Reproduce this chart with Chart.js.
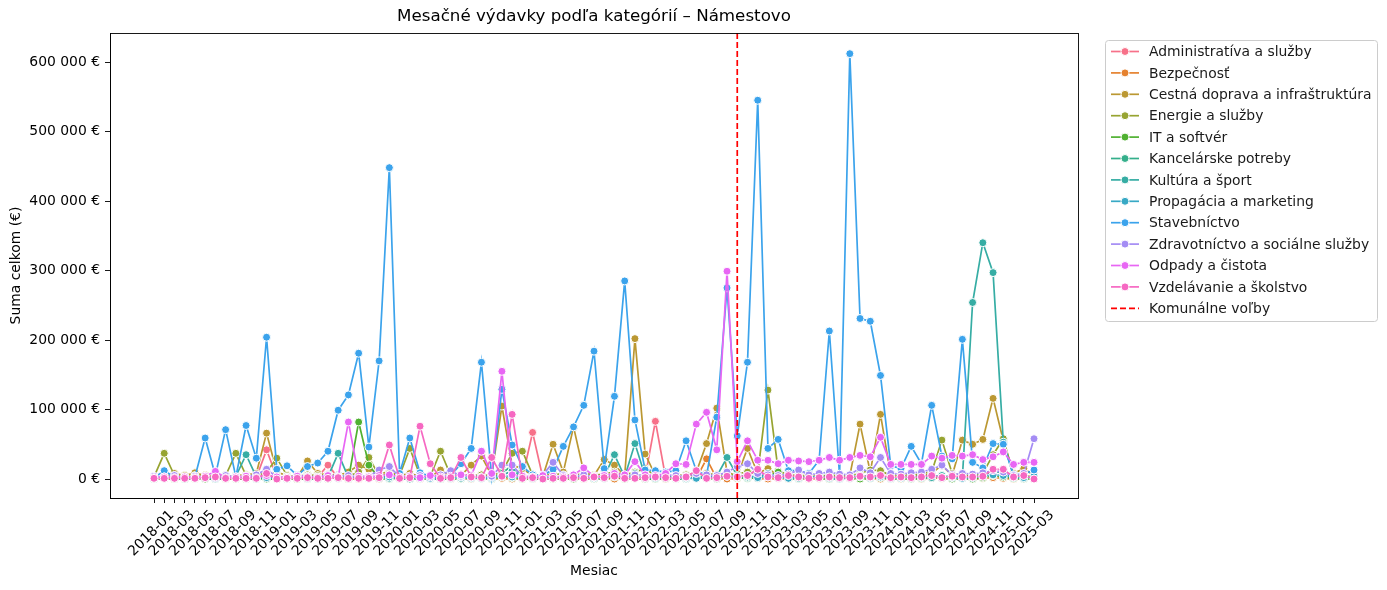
<!DOCTYPE html>
<html><head><meta charset="utf-8">
<script src="https://cdn.jsdelivr.net/npm/chart.js@4.4.1/dist/chart.umd.min.js"></script>
<style>html,body{margin:0;padding:0;background:#fff;}#wrap{width:1387px;height:590px;position:relative;}</style>
</head><body><div id="wrap"><canvas id="c"></canvas></div>
<script>
const months = ['2018-01','2018-02','2018-03','2018-04','2018-05','2018-06','2018-07','2018-08','2018-09','2018-10','2018-11','2018-12',
'2019-01','2019-02','2019-03','2019-04','2019-05','2019-06','2019-07','2019-08','2019-09','2019-10','2019-11','2019-12',
'2020-01','2020-02','2020-03','2020-04','2020-05','2020-06','2020-07','2020-08','2020-09','2020-10','2020-11','2020-12',
'2021-01','2021-02','2021-03','2021-04','2021-05','2021-06','2021-07','2021-08','2021-09','2021-10','2021-11','2021-12',
'2022-01','2022-02','2022-03','2022-04','2022-05','2022-06','2022-07','2022-08','2022-09','2022-10','2022-11','2022-12',
'2023-01','2023-02','2023-03','2023-04','2023-05','2023-06','2023-07','2023-08','2023-09','2023-10','2023-11','2023-12',
'2024-01','2024-02','2024-03','2024-04','2024-05','2024-06','2024-07','2024-08','2024-09','2024-10','2024-11','2024-12',
'2025-01','2025-02','2025-03'];
const electionMonth = '2022-10';
const electionLabel = 'Komunálne voľby';

// values in thousands of euros
const administrativa_k = [1,2,1,1,2,1,2,1,2,1, 2,42,3,2,1,2,3,20,2,1, 2,3,2,4,2,1,2,1,2,1, 2,3,2,1,4,3,2,67,2,1, 2,3,2,1,2,3,2,4,3,83, 2,1,2,3,2,1,4,2,3,2, 3,2,1,2,3,2,1,2,3,2, 2,3,2,1,2,3,2,3,2,1, 2,3,4,5,2,1,2];
const bezpecnost_k = [0,1,0,1,0,5,1,0,1,0, 1,2,0,1,0,1,0,2,1,0, 0,1,0,2,0,1,0,1,0,0, 1,0,2,0,1,0,1,0,0,1, 0,1,0,0,1,0,2,1,0,1, 0,1,2,1,29,1,0,1,2,1, 0,1,0,1,0,1,0,2,1,0, 1,0,1,0,1,0,2,1,0,1, 0,1,2,1,0,1,0];
const cestna_k = [2,3,8,5,9,5,3,4,5,6, 8,66,10,5,3,26,8,6,5,10, 20,14,8,10,5,8,4,3,13,3, 5,20,33,5,105,20,15,5,4,50, 10,75,10,5,28,20,5,202,36,5, 4,3,5,10,51,102,10,5,44,8, 15,5,5,4,3,4,5,5,5,79, 10,93,5,4,6,5,8,20,5,56, 50,57,116,55,8,15,5];
const energie_k = [3,37,5,3,5,4,3,5,37,5, 4,10,30,5,4,6,5,6,5,4, 10,31,5,8,5,44,5,4,40,5, 6,5,6,5,10,37,40,6,5,8, 6,5,8,5,8,10,6,10,15,5, 4,5,6,5,8,6,5,8,10,8, 128,12,6,5,5,6,4,6,5,8, 13,12,5,6,5,8,10,56,8,6, 5,8,35,58,6,5,4];
const it_k = [0,1,0,0,1,0,0,1,0,0, 1,0,0,1,0,0,1,0,3,0, 82,20,1,0,2,0,1,0,0,1, 0,2,1,0,3,2,0,1,0,0, 1,0,2,0,1,3,0,1,0,0, 1,0,0,2,1,0,4,2,1,2, 5,10,1,0,2,1,0,1,2,0, 1,2,0,1,0,1,3,2,0,1, 0,2,5,3,1,0,1];
const kancelarske_k = [0,2,1,0,1,2,0,1,3,1, 0,3,1,0,2,1,0,2,5,1, 2,1,3,2,1,0,2,1,0,1, 2,1,3,1,8,20,2,1,0,2, 1,3,2,1,4,5,2,8,3,1, 2,1,0,3,2,1,5,3,2,4, 6,3,2,1,2,3,1,0,2,4, 5,3,1,2,1,3,5,4,2,1, 3,5,12,8,2,1,3];
const kultura_k = [1,2,1,2,1,2,3,2,4,35, 3,2,1,2,3,1,2,3,37,2, 4,3,2,1,2,3,1,2,3,2, 1,3,2,1,5,12,3,2,1,2, 3,2,1,2,4,35,3,51,4,3, 2,3,1,2,3,4,31,5,3,2, 8,3,2,1,2,3,4,2,1,3, 2,4,1,2,3,2,2,5,3,2, 254,340,297,53,4,3,2];
const propagacia_k = [2,1,3,2,1,2,1,3,2,1, 4,2,1,3,2,1,2,3,1,2, 3,1,2,3,1,2,3,1,2,1, 3,2,1,2,5,3,2,1,2,3, 1,2,3,2,1,4,2,3,1,2, 3,1,2,1,3,2,4,3,5,2, 3,2,1,3,2,4,2,1,3,5, 2,3,1,2,4,3,6,2,3,1, 2,4,6,5,3,2,4];
const stavebnictvo_k = [2,12,3,2,3,59,5,71,3,77, 30,204,14,19,5,18,23,40,99,121, 181,46,170,448,8,59,9,4,3,5, 22,44,168,3,129,49,18,6,5,14, 47,75,106,184,15,119,285,85,13,12, 10,12,55,12,5,89,275,62,168,545, 44,57,12,12,8,27,213,5,612,231, 227,149,19,15,47,22,106,33,29,201, 24,16,51,50,6,7,13];
const zdravotnictvo_k = [4,3,5,2,4,3,2,5,3,4, 6,14,3,2,5,4,3,6,4,5, 3,4,13,18,3,4,5,3,6,12, 4,5,3,4,20,20,4,3,6,24, 5,4,6,3,5,7,4,6,5,4, 6,5,4,8,6,5,10,18,22,8, 6,5,7,13,6,8,10,7,6,16, 9,31,8,7,9,10,14,20,6,8, 7,9,12,10,5,8,58];
const odpady_k = [2,3,2,3,2,4,11,2,3,4, 2,5,3,2,4,3,2,5,3,82, 4,3,5,6,3,4,2,5,3,4, 6,5,40,8,155,6,4,3,5,4, 3,6,16,4,5,8,6,25,6,5, 8,22,21,79,96,42,299,25,55,27, 27,22,27,26,25,27,31,27,31,34, 32,60,21,21,21,21,33,30,34,33, 35,28,32,39,21,24,24];
const vzdelavanie_k = [1,1,1,1,1,2,3,1,1,1, 1,8,0,1,1,2,1,1,2,1, 1,1,2,49,1,2,76,22,1,2, 31,3,2,31,4,93,1,2,0,1, 1,2,1,3,2,4,1,1,2,3, 2,1,3,12,1,2,4,3,5,14, 3,2,5,3,1,2,3,2,2,4, 3,5,2,3,2,3,5,2,4,3, 3,4,14,14,3,5,0];

const categories = ['Administratíva a služby','Bezpečnosť','Cestná doprava a infraštruktúra','Energie a služby','IT a softvér','Kancelárske potreby','Kultúra a šport','Propagácia a marketing','Stavebníctvo','Zdravotníctvo a sociálne služby','Odpady a čistota','Vzdelávanie a školstvo'];
const seriesValues = [administrativa_k,bezpecnost_k,cestna_k,energie_k,it_k,kancelarske_k,kultura_k,propagacia_k,stavebnictvo_k,zdravotnictvo_k,odpady_k,vzdelavanie_k];
const colors = ['#f77189','#e5822f','#bb9832','#97a431','#50b131','#34af8b','#36ada4','#38a9c5','#3ba3ec','#a48cf4','#e866f4','#f668c2'];
const yTicks = [0,100000,200000,300000,400000,500000,600000];
const Y_MIN = -27300, Y_MAX = 641700;
const FONT = 'DejaVu Sans';

const datasets = categories.map((name,k)=>({
  label:name,
  data: seriesValues[k].map((v,i)=>({x:i,y:v*1000})),
  borderColor:colors[k], backgroundColor:colors[k],
  pointBackgroundColor:colors[k], pointBorderColor:'#ffffff',
  pointBorderWidth:1, pointRadius:4, borderWidth:1.7,
  tension:0, order: categories.length - k
}));
const eIdx = months.indexOf(electionMonth);
datasets.push({label:electionLabel, data:[{x:eIdx,y:Y_MIN},{x:eIdx,y:Y_MAX}],
  borderColor:'#ff0000', borderDash:[6,3], borderWidth:1.7, pointRadius:0, order:-1});

function fmt(v){return String(v).replace(/\B(?=(\d{3})+(?!\d))/g,' ')+' €';}

const boxLegend = {
  id:'boxLegend',
  afterDraw(chart){
    const ctx = chart.ctx; ctx.save();
    const x0=1105.5, y0=40.5, w=272, h=281, r=3;
    ctx.beginPath();
    ctx.moveTo(x0+r,y0); ctx.lineTo(x0+w-r,y0); ctx.quadraticCurveTo(x0+w,y0,x0+w,y0+r);
    ctx.lineTo(x0+w,y0+h-r); ctx.quadraticCurveTo(x0+w,y0+h,x0+w-r,y0+h);
    ctx.lineTo(x0+r,y0+h); ctx.quadraticCurveTo(x0,y0+h,x0,y0+h-r);
    ctx.lineTo(x0,y0+r); ctx.quadraticCurveTo(x0,y0,x0+r,y0); ctx.closePath();
    ctx.fillStyle='rgba(255,255,255,0.8)'; ctx.fill();
    ctx.strokeStyle='#cccccc'; ctx.lineWidth=1; ctx.stroke();
    ctx.font = '13.9px "'+FONT+'"'; ctx.textBaseline='middle'; ctx.textAlign='left';
    chart.data.datasets.forEach((ds,k)=>{
      const y = 51.5 + k*21.4;
      ctx.beginPath(); ctx.setLineDash(ds.borderDash||[]);
      ctx.strokeStyle=ds.borderColor; ctx.lineWidth=1.7;
      ctx.moveTo(1111,y); ctx.lineTo(1139,y); ctx.stroke(); ctx.setLineDash([]);
      if (ds.pointRadius>0){
        ctx.beginPath(); ctx.arc(1125,y,4,0,Math.PI*2);
        ctx.fillStyle=ds.borderColor; ctx.fill();
        ctx.strokeStyle='#fff'; ctx.lineWidth=1; ctx.stroke();
      }
      ctx.fillStyle='#1a1a1a'; ctx.fillText(ds.label,1149,y+1);
    });
    ctx.restore();
  }
};
const frame = {
  id:'frame',
  afterDatasetsDraw(chart){
    const a=chart.chartArea, ctx=chart.ctx; ctx.save();
    ctx.strokeStyle='#000'; ctx.lineWidth=0.9;
    ctx.strokeRect(Math.round(a.left)+0.5,Math.round(a.top)+0.5,Math.round(a.right-a.left),Math.round(a.bottom-a.top));
    ctx.restore();
  }
};

new Chart(document.getElementById('c'),{
  type:'line',
  data:{datasets},
  options:{
    responsive:true, maintainAspectRatio:false, animation:false,
    layout:{padding:{left:0,right:309,top:0,bottom:0}},
    plugins:{
      legend:{display:false}, tooltip:{enabled:false},
      title:{display:true,fullSize:false,text:'Mesačné výdavky podľa kategórií – Námestovo',color:'#000',
        font:{family:FONT,size:16.7,weight:'normal'},padding:{top:7,bottom:6}}
    },
    scales:{
      x:{type:'linear',min:-4.3,max:90.3,
        afterBuildTicks(s){s.ticks = months.map((m,i)=>({value:i}));},
        afterFit(s){s.height=92;},
        ticks:{autoSkip:false,maxRotation:45,minRotation:45,labelOffset:18,padding:4,color:'#000',
          font:{family:FONT,size:13.9},
          callback:(v)=> (v%2===0 ? months[v] : '')},
        grid:{display:true,drawOnChartArea:false,drawTicks:true,tickLength:5,color:'#000',lineWidth:0.9},
        border:{display:true,color:'#000',width:0.9},
        title:{display:true,text:'Mesiac',color:'#000',font:{family:FONT,size:13.9},padding:{top:0,bottom:10}}
      },
      y:{type:'linear',min:Y_MIN,max:Y_MAX,
        afterBuildTicks(s){s.ticks = yTicks.map(v=>({value:v}));},
        afterFit(s){s.width=110;},
        ticks:{color:'#000',font:{family:FONT,size:13.9},padding:5,callback:(v)=>fmt(v)},
        grid:{display:true,drawOnChartArea:false,drawTicks:true,tickLength:5,color:'#000',lineWidth:0.9},
        border:{display:true,color:'#000',width:0.9},
        title:{display:true,text:'Suma celkom (€)',color:'#000',font:{family:FONT,size:13.9},padding:{top:8,bottom:0}}
      }
    }
  },
  plugins:[boxLegend,frame]
});
</script></body></html>
